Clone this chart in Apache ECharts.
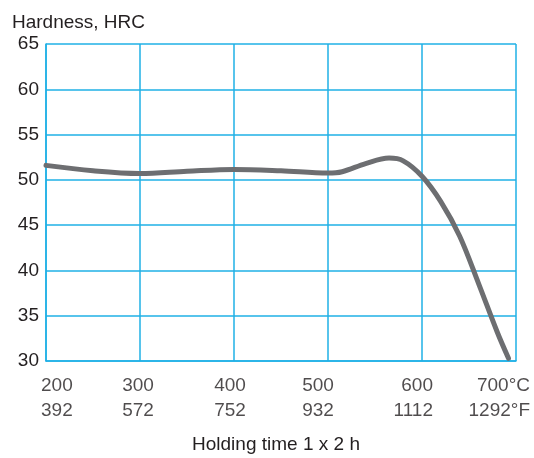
<!DOCTYPE html>
<html>
<head>
<meta charset="utf-8">
<script src="https://cdn.jsdelivr.net/npm/echarts@6/dist/echarts.min.js"></script>
<style>html,body{margin:0;padding:0;background:#fff}#c{width:534px;height:458px}</style>
</head>
<body>
<div id="c"></div>
<script>
var tempsC = [200, 250, 300, 350, 400, 450, 500, 515, 540, 565, 580, 600, 620, 640, 660, 680, 692];
var hardness = [51.6, 51.0, 50.7, 50.95, 51.15, 51.0, 50.75, 50.9, 51.8, 52.4, 52.1, 50.4, 47.6, 43.8, 38.6, 33.2, 30.3];
var tickValues = [200, 300, 400, 500, 600, 700];
var tickC = ['200', '300', '400', '500', '600', '700°C'];
var tickF = ['392', '572', '752', '932', '1112', '1292°F'];

var font = 'Liberation Sans, Arial, Helvetica, sans-serif';
var fs = 19;
var gridColor = '#1fb0e6';
var textColor = '#231f20';

// tick-label placement (styling only)
var labAlign = ['left', 'center', 'center', 'center', 'right', 'right'];
var labShift = [-5, -2, -4, -10, 11, 14];

var chart = echarts.init(document.getElementById('c'), null, {renderer: 'canvas'});
chart.setOption({
  animation: false,
  backgroundColor: '#fff',
  title: {
    text: 'Hardness, HRC', left: 7, top: 8,
    textStyle: {fontFamily: font, fontSize: fs, fontWeight: 'normal', color: textColor}
  },
  grid: {left: 46, right: 18, top: 44, bottom: 97, containLabel: false, outerBoundsMode: 'none'},
  xAxis: {
    type: 'value', min: 200, max: 700, interval: 100,
    name: 'Holding time 1 x 2 h', nameLocation: 'middle', nameGap: 74,
    nameTextStyle: {fontFamily: font, fontSize: fs, color: textColor, padding: [0, 10, 0, 0]},
    axisLine: {show: true, lineStyle: {color: gridColor, width: 1.5}},
    axisTick: {show: false},
    splitLine: {show: true, lineStyle: {color: gridColor, width: 1.5}},
    axisLabel: {show: false}
  },
  yAxis: {
    type: 'value', min: 30, max: 65, interval: 5,
    axisLine: {show: true, lineStyle: {color: gridColor, width: 1.5}},
    axisTick: {show: false},
    splitLine: {show: true, lineStyle: {color: gridColor, width: 1.5}},
    axisLabel: {margin: 7, fontFamily: font, fontSize: fs, color: textColor, showMinLabel: true, showMaxLabel: true}
  },
  series: [{
    type: 'line',
    data: tempsC.map(function (t, i) { return [t, hardness[i]]; }),
    smooth: 0.35,
    showSymbol: false,
    lineStyle: {color: '#6d6e71', width: 5, cap: 'round'}
  }, {
    // x tick labels (°C / °F), placed through the x scale
    type: 'scatter',
    silent: true,
    symbolSize: 0,
    clip: false,
    data: tickValues.map(function (v, k) {
      return {
        value: [v, 30],
        label: {
          show: true, position: 'bottom', distance: 12,
          align: labAlign[k], offset: [labShift[k], 0],
          verticalAlign: 'top',
          fontFamily: font, fontSize: fs, color: textColor, lineHeight: 25,
          formatter: tickC[k] + '\n' + tickF[k]
        }
      };
    })
  }]
});
</script>
</body>
</html>
